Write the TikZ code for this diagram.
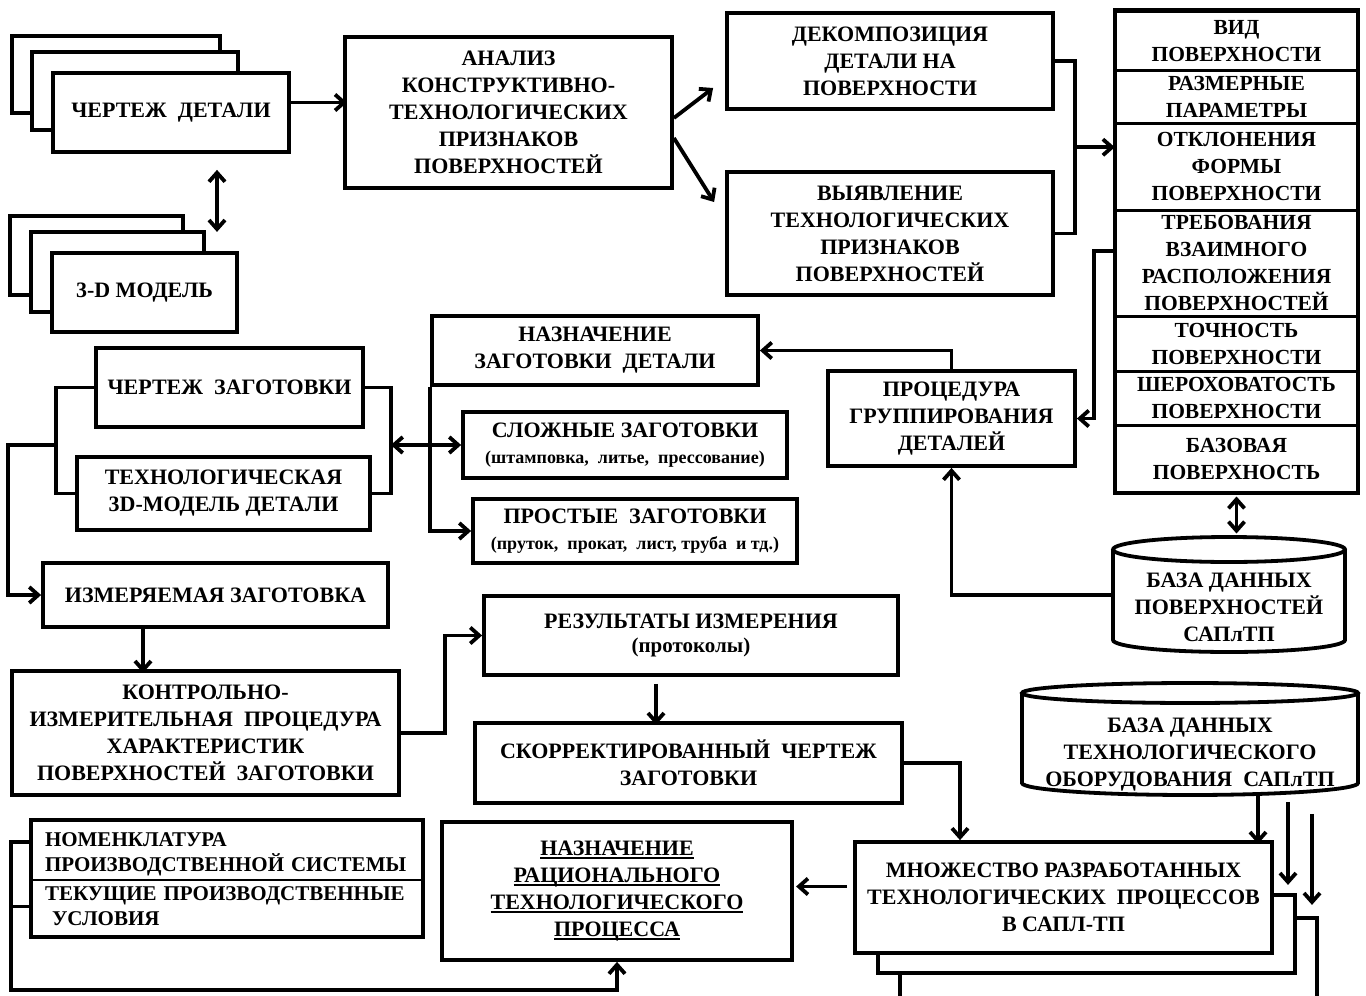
\documentclass[tikz,border=0pt]{standalone}
\usepackage{fontspec}
\setmainfont{Liberation Serif}[BoldFont={Liberation Serif Bold}]
\usetikzlibrary{arrows.meta,calc}

\newsavebox\undlbox
\newcommand\undl[1]{\sbox\undlbox{#1}\rlap{\rule[-3.5pt]{\wd\undlbox}{1.8pt}}\usebox\undlbox}
\newcommand\smalltxt{\fontsize{18}{21}\selectfont}

\begin{document}
\begin{tikzpicture}[x=1pt, y=-1pt, line width=3.8pt,
  >={Straight Barb[length=9pt,width=16pt]},
  box/.style={draw, fill=white, align=center, inner sep=0pt,
    font=\rmfamily\bfseries\fontsize{22}{27}\selectfont},
  cell/.style={draw, line width=2.5pt, anchor=north, align=center, inner sep=0pt,
    minimum width=241pt, font=\rmfamily\bfseries\fontsize{21.5}{27}\selectfont}]
  \useasboundingbox (0,0) rectangle (1366,996);

  \draw[fill=white] (12,36) rectangle (220,113);
  \draw[fill=white] (32,52) rectangle (238,130);
  \node[box, minimum width=236pt, minimum height=79pt] (chd) at (171,112.5) {ЧЕРТЕЖ\ \ ДЕТАЛИ};
  \draw[fill=white] (10,216) rectangle (183,295);
  \draw[fill=white] (31,232) rectangle (204,312);
  \node[box, minimum width=185pt, minimum height=79pt] (model) at (144.5,292.5) {3-D МОДЕЛЬ};

  \node[box, minimum width=327pt, minimum height=151pt] (analiz) at (508.5,112.5)
    {АНАЛИЗ\\КОНСТРУКТИВНО-\\ТЕХНОЛОГИЧЕСКИХ\\ПРИЗНАКОВ\\ПОВЕРХНОСТЕЙ};
  \node[box, minimum width=326pt, minimum height=96pt] (dekomp) at (890,61)
    {ДЕКОМПОЗИЦИЯ\\ДЕТАЛИ НА\\ПОВЕРХНОСТИ};
  \node[box, minimum width=326pt, minimum height=123pt] (vyyavl) at (890,233.5)
    {ВЫЯВЛЕНИЕ\\ТЕХНОЛОГИЧЕСКИХ\\ПРИЗНАКОВ\\ПОВЕРХНОСТЕЙ};

  \node[cell, minimum height=59pt] (r1) at (1236.5,10) {ВИД\\ПОВЕРХНОСТИ};
  \node[cell, minimum height=53pt] (r2) at (1236.5,69) {РАЗМЕРНЫЕ\\ПАРАМЕТРЫ};
  \node[cell, minimum height=87pt] (r3) at (1236.5,122) {ОТКЛОНЕНИЯ\\ФОРМЫ\\ПОВЕРХНОСТИ};
  \node[cell, minimum height=106pt] (r4) at (1236.5,209)
    {ТРЕБОВАНИЯ\\ВЗАИМНОГО\\РАСПОЛОЖЕНИЯ\\ПОВЕРХНОСТЕЙ};
  \node[cell, minimum height=55pt] (r5) at (1236.5,315) {ТОЧНОСТЬ\\ПОВЕРХНОСТИ};
  \node[cell, minimum height=54pt] (r6) at (1236.5,370) {ШЕРОХОВАТОСТЬ\\ПОВЕРХНОСТИ};
  \node[cell, minimum height=67pt] (r7) at (1236.5,424) {БАЗОВАЯ\\ПОВЕРХНОСТЬ};
  \draw (r1.north west) rectangle (r7.south east);

  \node[box, minimum width=247pt, minimum height=95pt] (procedura) at (951.5,418.5)
    {ПРОЦЕДУРА\\ГРУППИРОВАНИЯ\\ДЕТАЛЕЙ};

  \draw[fill=white] (1113,549.5) -- (1113,640) arc (180:0:116 and 12) -- (1345,549.5);
  \draw (1229,549.5) ellipse (116 and 12.5);
  \node[box, draw=none, fill=none, minimum width=232pt, minimum height=90pt] (bd1) at (1229,607)
    {БАЗА ДАННЫХ\\ПОВЕРХНОСТЕЙ\\САПлТП};

  \node[box, minimum width=326pt, minimum height=69pt] (nazn_zag) at (595,350.5)
    {НАЗНАЧЕНИЕ\\ЗАГОТОВКИ\ \ ДЕТАЛИ};
  \node[box, minimum width=324pt, minimum height=66pt] (slozh) at (625,445)
    {СЛОЖНЫЕ ЗАГОТОВКИ\\[-1pt]{\smalltxt(штамповка,\ \ литье,\ \ прессование)}};
  \node[box, minimum width=324pt, minimum height=64pt] (prost) at (635,531)
    {ПРОСТЫЕ\ \ ЗАГОТОВКИ\\[-1pt]{\smalltxt(пруток,\ \ прокат,\ \ лист, труба\ \ и тд.)}};

  \node[box, minimum width=267pt, minimum height=79pt] (chzag) at (229.5,387.5) {ЧЕРТЕЖ\ \ ЗАГОТОВКИ};
  \node[box, minimum width=293pt, minimum height=73pt] (t3d) at (223.5,493.5)
    {ТЕХНОЛОГИЧЕСКАЯ\\3D-МОДЕЛЬ ДЕТАЛИ};
  \node[box, minimum width=345pt, minimum height=64pt] (izm) at (215.5,595) {ИЗМЕРЯЕМАЯ ЗАГОТОВКА};
  \node[box, minimum width=387pt, minimum height=124pt] (kontr) at (205.5,733)
    {КОНТРОЛЬНО-\\ИЗМЕРИТЕЛЬНАЯ\ \ ПРОЦЕДУРА\\ХАРАКТЕРИСТИК\\ПОВЕРХНОСТЕЙ\ \ ЗАГОТОВКИ};

  \node[box, minimum width=414pt, minimum height=79pt] (rezult) at (691,635.5)
    {РЕЗУЛЬТАТЫ ИЗМЕРЕНИЯ\\[-3pt]{\fontsize{21}{24}\selectfont(протоколы)}};
  \node[box, minimum width=427pt, minimum height=80pt] (skorr) at (688.5,763)
    {СКОРРЕКТИРОВАННЫЙ\ \ ЧЕРТЕЖ\\ЗАГОТОВКИ};

  \node[box, draw=none, fill=none, align=left, inner xsep=12pt, text width=364pt, minimum height=48pt,
    font=\rmfamily\bfseries\fontsize{21}{25}\selectfont] (nomen1) at (227,854)
    {НОМЕНКЛАТУРА\\ПРОИЗВОДСТВЕННОЙ СИСТЕМЫ};
  \node[box, draw=none, fill=none, align=left, inner xsep=12pt, text width=364pt, minimum height=57pt,
    font=\rmfamily\bfseries\fontsize{21}{25}\selectfont] (nomen2) at (227,906.5)
    {ТЕКУЩИЕ ПРОИЗВОДСТВЕННЫЕ\\\hspace*{7pt}УСЛОВИЯ};
  \draw[line width=2.5pt] (nomen1.south west) -- (nomen1.south east);
  \draw ([yshift=8pt]nomen1.north west) rectangle (nomen2.south east);

  \node[box, minimum width=350pt, minimum height=138pt] (ratsion) at (617,891)
    {\undl{НАЗНАЧЕНИЕ}\\\undl{РАЦИОНАЛЬНОГО}\\\undl{ТЕХНОЛОГИЧЕСКОГО}\\\undl{ПРОЦЕССА}};

  \draw[fill=white] (900,918) rectangle (1317,998);
  \draw[fill=white] (878,895) rectangle (1295,973);
  \node[box, minimum width=417pt, minimum height=111pt] (mnozh) at (1063.5,897.5)
    {МНОЖЕСТВО РАЗРАБОТАННЫХ\\ТЕХНОЛОГИЧЕСКИХ\ \ ПРОЦЕССОВ\\В САПЛ-ТП};

  \draw[fill=white] (1022,693) -- (1022,783) arc (180:0:168 and 12) -- (1358,693);
  \draw (1190,693) ellipse (168 and 10);
  \node[box, draw=none, fill=none, minimum width=336pt, minimum height=90pt] (bd2) at (1190,755)
    {БАЗА ДАННЫХ\\ТЕХНОЛОГИЧЕСКОГО\\ОБОРУДОВАНИЯ\ \ САПлТП};

  \draw[->] ([yshift=10pt]chd.east) -- ++(56,0);
  \draw[<->] ([xshift=46pt,yshift=-16pt]chd.south) -- ++(0,62);
  \draw[->] ([yshift=-5.5pt]analiz.east) -- ([xshift=-12pt,yshift=-27pt]dekomp.west);
  \draw[->] ([yshift=-25.5pt]analiz.east) -- ([xshift=-11pt,yshift=31.5pt]vyyavl.west);
  \draw (dekomp.east) -- ++(20,0) |- (vyyavl.east);
  \coordinate (brk) at ($(dekomp.east)!0.5!(vyyavl.east)+(20,0)$);
  \draw[->] (brk) -- (brk -| r3.west);
  \draw[->] ([yshift=12pt]r4.west) -- ++(-21,0) |- (procedura.east);
  \draw[->] (procedura.north) |- (nazn_zag.east);
  \draw[->] ([yshift=12pt]bd1.west) -| (procedura.south);
  \draw[<->] ([yshift=-3pt]r7.south) -- ++(0,37);

  \draw (chzag.west) -- ++(-38,0) |- (t3d.west);
  \draw (chzag.east) -- ++(26,0) |- (t3d.east);
  \coordinate (rbr) at ([xshift=26pt]chzag.east);
  \coordinate (lbr) at ([xshift=-38pt]chzag.west);
  \draw[<->] (rbr |- slozh.west) -- (slozh.west);
  \draw[->] (nazn_zag.south west) |- (prost.west);
  \draw[->] (lbr |- slozh.west) -- ++(-48,0) |- (izm.west);
  \draw[->] ([xshift=-72.5pt]izm.south) -- ++(0,44);
  \draw[->] (kontr.east) -- ++(44,0) |- (rezult.west);
  \draw[->] ([xshift=-35pt,yshift=-7pt]rezult.south) -- ++(0,41);
  \draw[->] (skorr.east) -| ([xshift=-103.5pt]mnozh.north);

  \draw[->] ([xshift=68pt,yshift=6pt]bd2.south) -- ++(0,48);
  \draw[->] ([xshift=98pt]bd2.south) -- ++(0,83);
  \draw[->] ([xshift=122pt,yshift=-12pt]bd2.south) -- ++(0,91);
  \draw[->] ([xshift=-6pt,yshift=11pt]mnozh.west) -- ++(-51,0);
  \draw (nomen2.west) -- ++(-20,0);
  \draw[->] ([yshift=12pt]nomen1.west) -- ++(-20,0) -- ++(0,148) -| (ratsion.south);
\end{tikzpicture}
\end{document}
